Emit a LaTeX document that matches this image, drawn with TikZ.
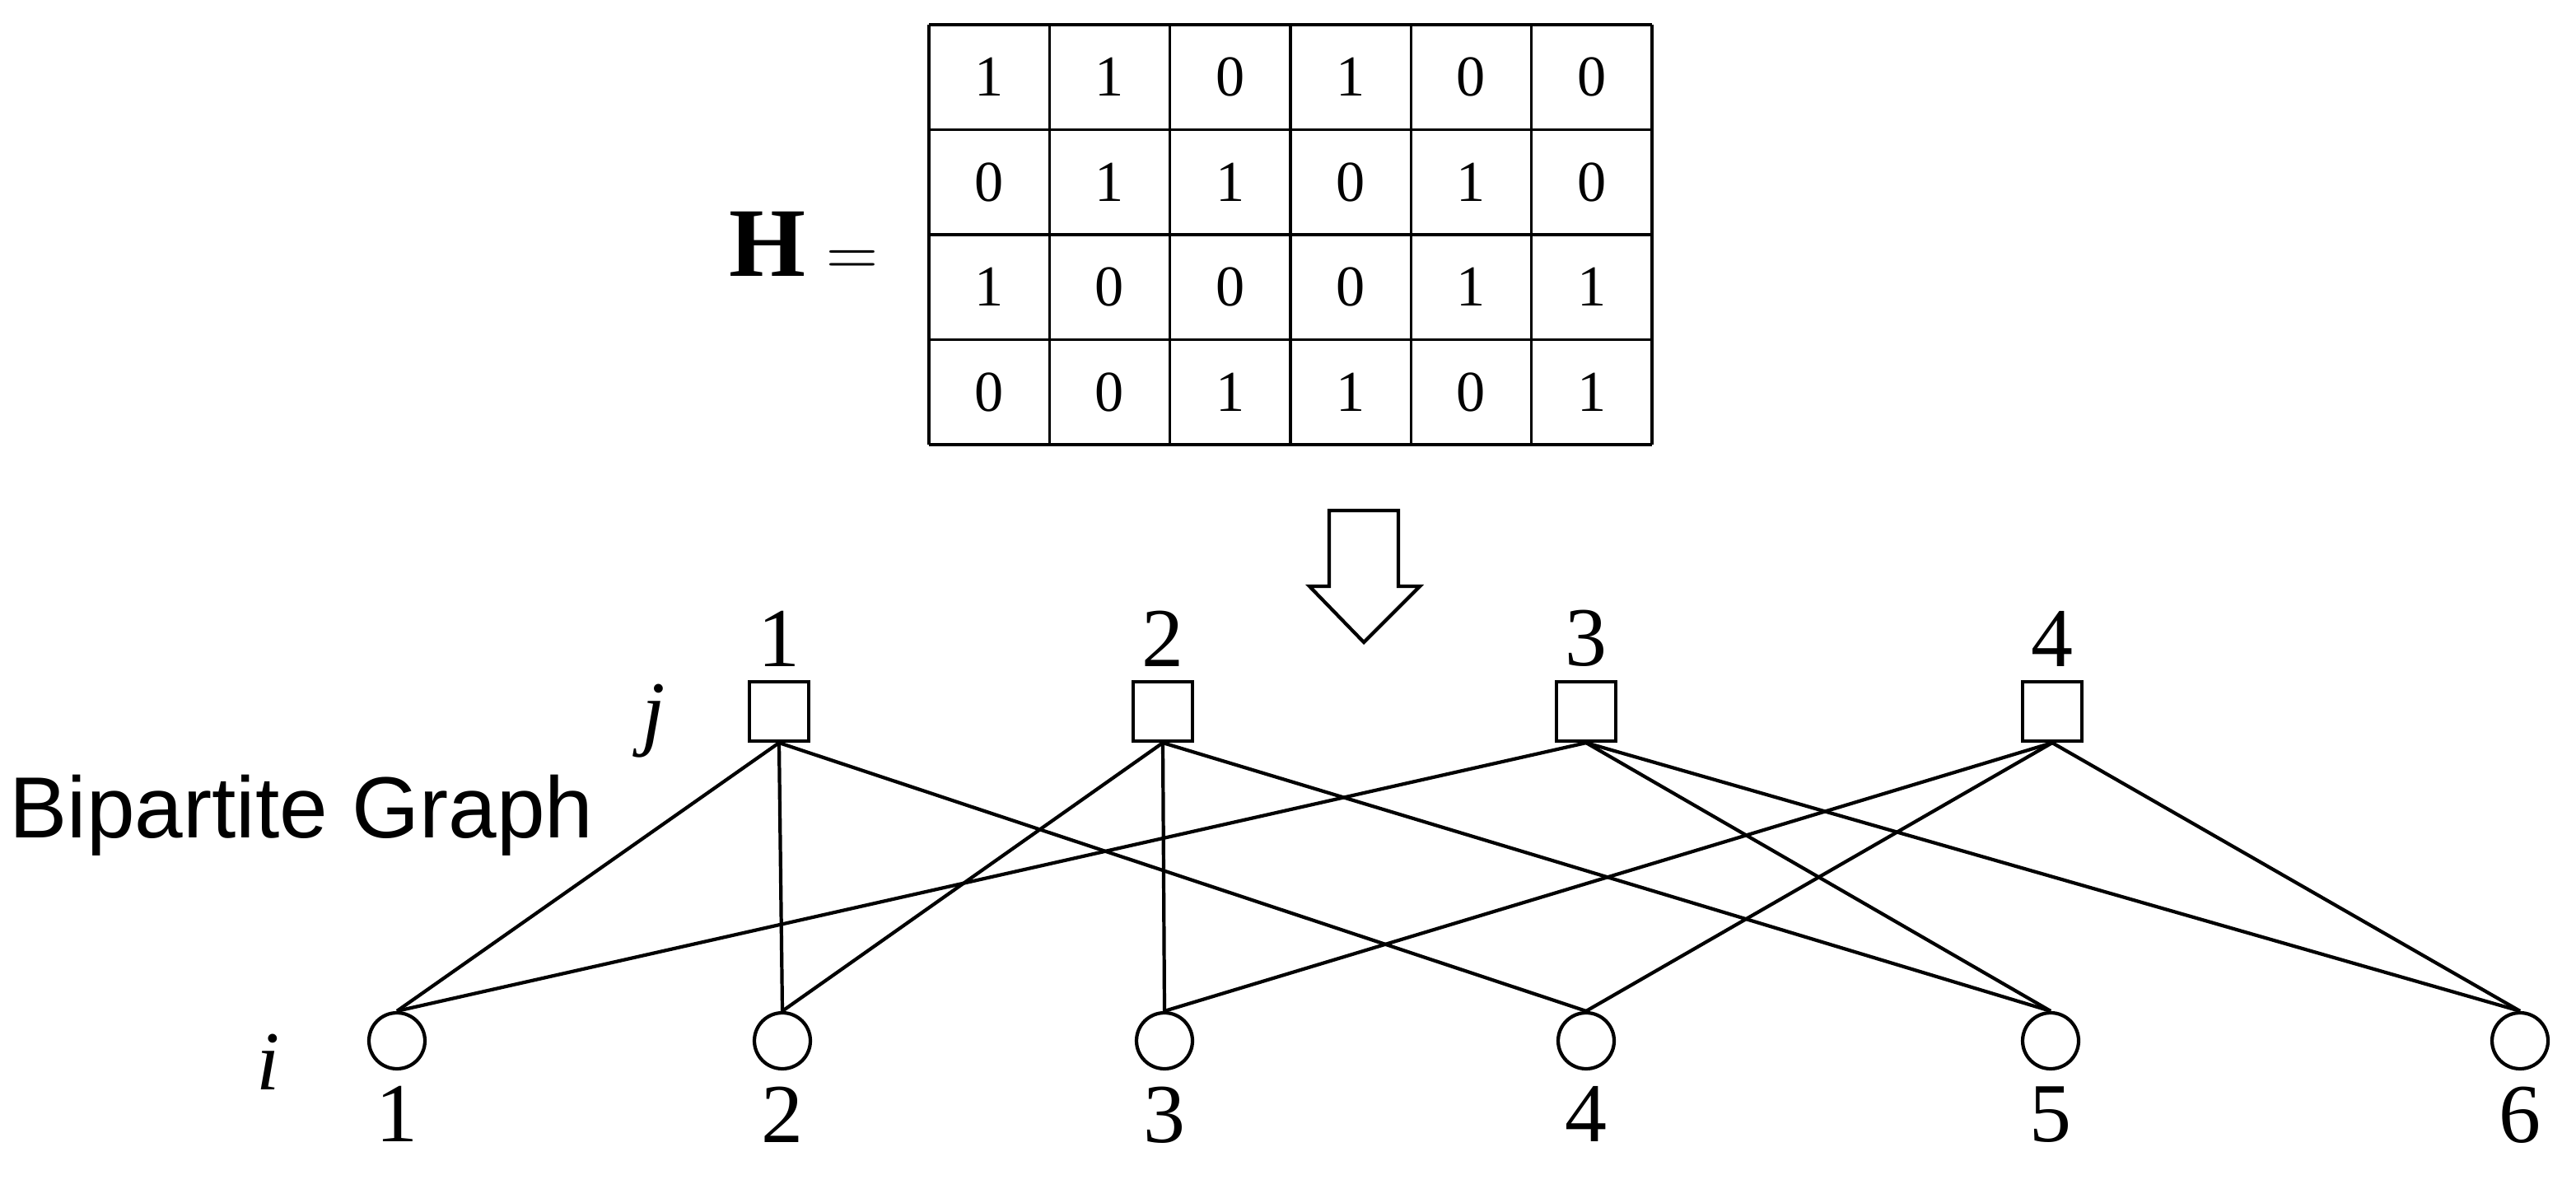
\documentclass[tikz,border=0pt]{standalone}
\usepackage{fontspec}
\setmainfont{Liberation Serif}
\newfontfamily\sansfont{Liberation Sans}
\usetikzlibrary{calc,positioning}
\begin{document}
\begin{tikzpicture}[x=0.02cm,y=-0.02cm,
    chk/.style={draw, line width=1.2pt, rectangle, minimum size=0.72cm, inner sep=0pt},
    var/.style={draw, line width=1.2pt, circle, minimum size=0.68cm, inner sep=0pt},
    num/.style={font=\fontsize{29}{32}\selectfont},
    cell/.style={font=\fontsize{20}{22}\selectfont}]

    \useasboundingbox (0,0) rectangle (1564,722);

    % parity check matrix
    \foreach \k in {0,...,6}
        \draw[line width=1pt] ({564+73.17*\k},15) -- ({564+73.17*\k},270);
    \foreach \k in {0,...,4}
        \draw[line width=1pt] (564,{15+63.75*\k}) -- (1003,{15+63.75*\k});
    \foreach \r [count=\i] in {{1,1,0,1,0,0},{0,1,1,0,1,0},{1,0,0,0,1,1},{0,0,1,1,0,1}}
        \foreach \v [count=\j] in \r
            \node[cell] (h\i\j) at ({564+73.17*(\j-0.5)},{15+63.75*(\i-0.5)}) {\v};
    \node (Hlbl) at (488,148) {\fontsize{34}{36}\selectfont$\mathbf{H}=$};

    % hollow arrow
    \draw[line width=1.2pt] (807,310) -- (849,310) -- (849,356) -- (862,356) -- (828,390)
        -- (795,356) -- (807,356) -- cycle;

    % check nodes
    \foreach \x [count=\k] in {473,706,963,1246} {
        \node[chk] (c\k) at (\x,432) {};
        \node[num, above=1pt of c\k] (cl\k) {\k};
    }
    % variable nodes
    \foreach \x [count=\k] in {241,475,707,963,1245,1530} {
        \node[var] (v\k) at (\x,632) {};
        \node[num, below=2pt of v\k] (vl\k) {\k};
    }

    \node[num] (jlbl) at (397,438) {\itshape j};
    \node[num] (ilbl) at (163,645) {\itshape i};
    \node (bg) at (183,495) {\sansfont\fontsize{30}{32}\selectfont Bipartite Graph};

    \foreach \c/\v in {1/1,1/2,1/4,2/2,2/3,2/5,3/1,3/5,3/6,4/3,4/4,4/6}
        \draw[line width=1.2pt] (c\c.south) -- (v\v.north);

\end{tikzpicture}
\end{document}
